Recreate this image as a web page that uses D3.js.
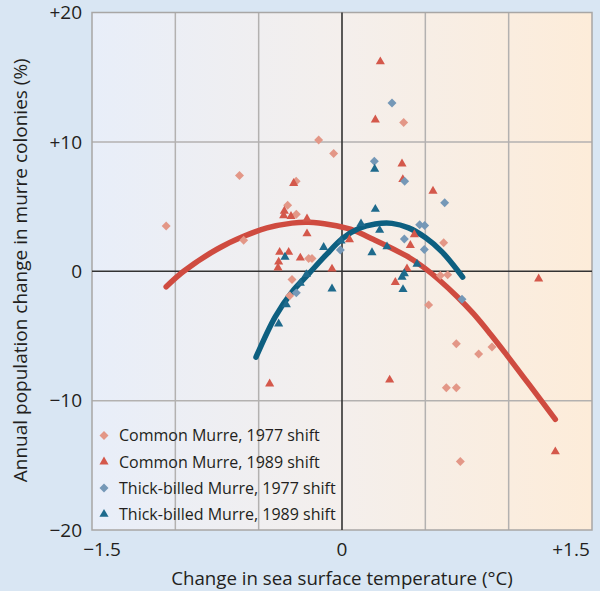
<!DOCTYPE html>
<html>
<head>
<meta charset="utf-8">
<script src="https://d3js.org/d3.v7.min.js"></script>
<style>
  body { margin: 0; background: #d9e6f3; }
  text { font-family: "Open Sans", "Noto Sans", sans-serif; fill: #231f20; }
</style>
</head>
<body>
<div id="chart"></div>
<script>

// tick labels
var xTicks = [-1.5, 0, 1.5];
var xTickLabels = ["\u22121.5", "0", "+1.5"];
var xGrid = [-1.0, -0.5, 0.5, 1.0];
var yTicks = [20, 10, 0, -10, -20];
var yTickLabels = ["+20", "+10", "0", "\u221210", "\u221220"];

// Common Murre, 1977 shift  [sst change, pop change]
var commonMurre1977 = [
  [-1.055, 3.5], [-0.615, 7.4], [-0.59, 2.4], [-0.326, 5.1], [-0.275, 6.95],
  [-0.274, 4.4], [-0.30, -0.64], [-0.314, -1.9], [-0.20, 0.98], [-0.18, 0.98],
  [-0.14, 10.15], [-0.05, 9.1], [0.37, 11.5], [0.61, 2.2], [0.59, -0.33],
  [0.634, -0.28], [0.52, -2.6], [0.686, -5.6], [0.82, -6.4], [0.90, -5.85],
  [0.626, -9.0], [0.686, -9.0], [0.71, -14.7]
];
// Common Murre, 1989 shift
var commonMurre1989 = [
  [0.23, 16.2], [0.20, 11.7], [0.36, 8.3], [0.365, 7.1], [0.546, 6.2],
  [-0.29, 6.8], [-0.346, 4.65], [-0.35, 4.3], [-0.306, 4.25], [-0.21, 4.05],
  [-0.21, 2.9], [0.045, 2.45], [0.434, 2.83], [0.41, 2.0], [-0.374, 1.47],
  [-0.32, 1.47], [-0.38, 0.72], [-0.384, 0.26], [-0.25, 1.03], [-0.06, 0.18],
  [0.39, 0.2], [0.32, -0.85], [1.18, -0.58], [0.286, -8.4], [-0.434, -8.7],
  [1.28, -13.95]
];
// Thick-billed Murre, 1977 shift
var thickBilled1977 = [
  [0.30, 13.0], [0.194, 8.5], [0.376, 6.95], [0.616, 5.3], [0.466, 3.6],
  [0.496, 3.53], [0.374, 2.5], [0.494, 1.68], [-0.01, 1.65], [0.72, -2.17],
  [-0.274, -1.67]
];
// Thick-billed Murre, 1989 shift
var thickBilled1989 = [
  [0.196, 7.9], [0.20, 4.8], [0.114, 3.68], [0.226, 3.17], [-0.11, 1.85],
  [-0.006, 2.35], [0.27, 1.9], [0.18, 1.44], [0.45, 0.55], [0.374, -0.18],
  [0.36, -0.45], [-0.06, -1.36], [0.366, -1.41], [-0.214, -0.25], [-0.25, -0.92],
  [-0.342, 1.1], [-0.334, -2.57], [-0.38, -4.06]
];

// fitted curves
var commonCurve = [
  [-1.055, -1.2], [-0.95, 0], [-0.75, 1.7], [-0.59, 2.7], [-0.45, 3.35],
  [-0.3, 3.72], [-0.2, 3.78], [-0.07, 3.6], [0.05, 3.25], [0.19, 2.45],
  [0.39, 1.16], [0.49, 0.3], [0.59, -0.75], [0.69, -1.95], [0.79, -3.3],
  [0.89, -4.85], [0.99, -6.5], [1.09, -8.2], [1.19, -9.9], [1.28, -11.45]
];
var thickCurve = [
  [-0.516, -6.64], [-0.4, -3.5], [-0.3, -1.6], [-0.2, -0.2], [-0.1, 1.2],
  [0, 2.5], [0.1, 3.3], [0.2, 3.65], [0.3, 3.7], [0.4, 3.35],
  [0.5, 2.6], [0.6, 1.5], [0.724, -0.45]
];

var legendLabels = ["Common Murre, 1977 shift", "Common Murre, 1989 shift",
                    "Thick-billed Murre, 1977 shift", "Thick-billed Murre, 1989 shift"];

var margin = {top: 12.5, right: 8, bottom: 61, left: 92},
    width = 600 - margin.left - margin.right,
    height = 591 - margin.top - margin.bottom;

var svg = d3.select("#chart")
  .append("svg")
    .attr("width", 600)
    .attr("height", 591);

svg.append("rect")
    .attr("width", 600).attr("height", 591)
    .style("fill", "#d9e6f3");

var defs = svg.append("defs");
var grad = defs.append("linearGradient").attr("id", "bg").attr("x1", "0%").attr("x2", "100%");
grad.append("stop").attr("offset", "0%").attr("stop-color", "#e8eef9");
grad.append("stop").attr("offset", "50%").attr("stop-color", "#f4efec");
grad.append("stop").attr("offset", "100%").attr("stop-color", "#fdecd9");

var g = svg.append("g")
    .attr("transform", "translate(" + margin.left + "," + margin.top + ")");

var x = d3.scaleLinear().domain([-1.5, 1.5]).range([0, width]);
var y = d3.scaleLinear().domain([-20, 20]).range([height, 0]);

g.append("rect")
    .attr("width", width).attr("height", height)
    .style("fill", "url(#bg)");

// grid
g.selectAll(".vgrid").data(xGrid).enter().append("line")
    .attr("x1", function(d) { return x(d); }).attr("x2", function(d) { return x(d); })
    .attr("y1", 0).attr("y2", height)
    .style("stroke", "#b3b1b0").style("stroke-width", 1.5);
g.selectAll(".hgrid").data([10, -10]).enter().append("line")
    .attr("y1", function(d) { return y(d); }).attr("y2", function(d) { return y(d); })
    .attr("x1", 0).attr("x2", width)
    .style("stroke", "#b3b1b0").style("stroke-width", 1.5);

g.append("rect")
    .attr("width", width).attr("height", height)
    .style("fill", "none").style("stroke", "#a8a6a5").style("stroke-width", 1.5);

// zero lines
g.append("line").attr("x1", x(0)).attr("x2", x(0)).attr("y1", 0).attr("y2", height)
    .style("stroke", "#333").style("stroke-width", 1.6);
g.append("line").attr("x1", 0).attr("x2", width).attr("y1", y(0)).attr("y2", y(0))
    .style("stroke", "#333").style("stroke-width", 1.6);

// tick labels
g.selectAll(".ylab").data(yTicks).enter().append("text")
    .attr("x", -10)
    .attr("y", function(d) { return y(d); })
    .attr("dy", "0.36em")
    .attr("text-anchor", "end")
    .style("font-size", "19px")
    .text(function(d, i) { return yTickLabels[i]; });

g.selectAll(".xlab").data(xTicks).enter().append("text")
    .attr("x", function(d) { return x(d); })
    .attr("dx", function(d, i) { return i === 0 ? 10 : (i === 2 ? -21 : 0); })
    .attr("y", height + 26)
    .attr("text-anchor", "middle")
    .style("font-size", "19px")
    .text(function(d, i) { return xTickLabels[i]; });

// axis titles
g.append("text")
    .attr("x", x(0)).attr("y", height + 55)
    .attr("text-anchor", "middle")
    .style("font-size", "18.7px")
    .text("Change in sea surface temperature (\u00b0C)");

g.append("text")
    .attr("transform", "translate(" + (-65) + "," + (height / 2 - 1) + ") rotate(-90)")
    .attr("text-anchor", "middle")
    .style("font-size", "19px")
    .text("Annual population change in murre colonies (%)");

// curves
var line = d3.line()
    .x(function(d) { return x(d[0]); })
    .y(function(d) { return y(d[1]); })
    .curve(d3.curveCatmullRom);

g.append("path").datum(commonCurve)
    .attr("d", line)
    .style("fill", "none").style("stroke", "#cf4b40")
    .style("stroke-width", 5.5).style("stroke-linecap", "round");
g.append("path").datum(thickCurve)
    .attr("d", line)
    .style("fill", "none").style("stroke", "#0d5f80")
    .style("stroke-width", 5.5).style("stroke-linecap", "round");

// markers
var diamond = d3.symbol().type(d3.symbolSquare).size(40);
var triangle = d3.symbol().type(d3.symbolTriangle).size(36);

var series = [
  {data: commonMurre1977, shape: diamond, color: "#e39787", rot: 45},
  {data: commonMurre1989, shape: triangle, color: "#d4584b", rot: 0},
  {data: thickBilled1977, shape: diamond, color: "#7598b7", rot: 45},
  {data: thickBilled1989, shape: triangle, color: "#1e6a8c", rot: 0}
];

series.forEach(function(s) {
  g.append("g").selectAll("path")
    .data(s.data)
    .enter().append("path")
      .attr("d", s.shape)
      .attr("transform", function(d) {
        return "translate(" + x(d[0]) + "," + y(d[1]) + ") rotate(" + s.rot + ")";
      })
      .style("fill", s.color);
});

// legend
var legend = g.append("g").attr("transform", "translate(12," + (y(-12.7)) + ")");
series.forEach(function(s, i) {
  var row = legend.append("g").attr("transform", "translate(0," + (i * 26.2) + ")");
  row.append("path")
      .attr("d", s.shape)
      .attr("transform", "rotate(" + s.rot + ")")
      .style("fill", s.color);
  row.append("text")
      .attr("x", 15).attr("dy", "0.36em")
      .style("font-size", "16px")
      .text(legendLabels[i]);
});

</script>
</body>
</html>
